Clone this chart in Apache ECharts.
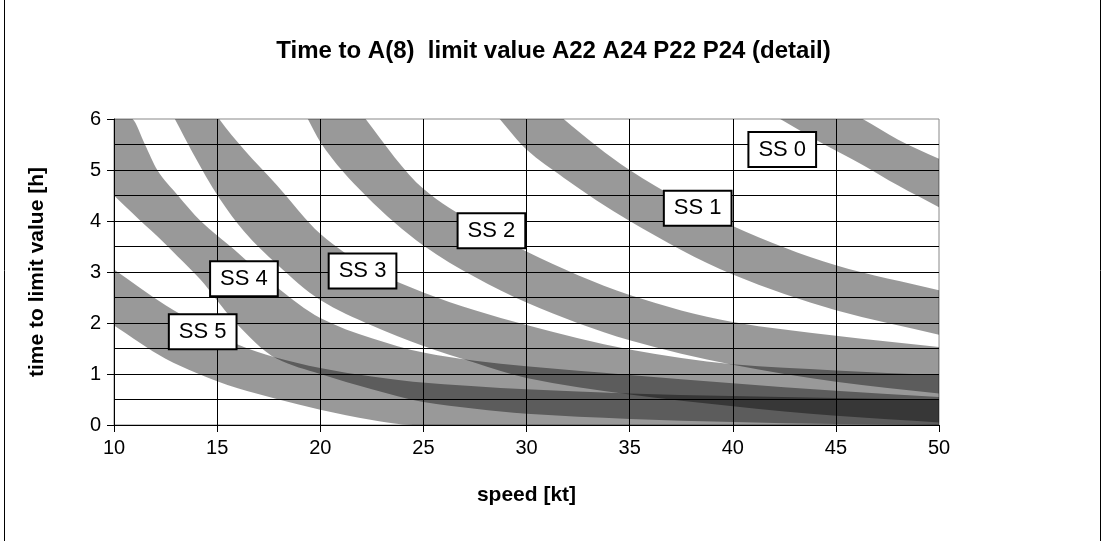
<!DOCTYPE html>
<html>
<head>
<meta charset="utf-8">
<title>Time to A(8) limit value</title>
<script src="https://cdn.jsdelivr.net/npm/echarts@6/dist/echarts.min.js"></script>
<style>
html, body { margin: 0; padding: 0; background: #fff; }
#chart { width: 1107px; height: 541px; }
</style>
</head>
<body>
<div id="chart"></div>
<script>
// band edges (time to limit value [h]) per sea state
// points above 6 h are estimates of where the edge runs beyond the top of the plot
var ss0Speed = [42.3, 44, 46.3, 48, 50];
var ss0Low   = [6, 5.6, 5.1, 4.7, 4.27];
var ss0High  = [6.9, 6.5, 6, 5.6, 5.22];

var ss1Speed = [28.7, 30, 31.8, 35, 40, 45, 50];
var ss1Low   = [6, 5.4, 4.85, 4.0, 2.95, 2.25, 1.77];
var ss1High  = [7.1, 6.65, 6, 5.0, 3.9, 3.13, 2.64];

var ss2Speed = [19.4, 20, 22.2, 25, 27.5, 30, 35, 40, 45, 50];
var ss2Low   = [6, 5.55, 4.5, 3.52, 2.9, 2.4, 1.66, 1.18, 0.85, 0.62];
var ss2High  = [7.6, 7.25, 6, 4.63, 3.95, 3.4, 2.55, 2.02, 1.75, 1.53];

var ss3Speed = [12.95, 13.8, 15.1, 16.3, 17.9, 20, 22.5, 25, 27.5, 30, 35, 40, 45, 50];
var ss3Low   = [6, 5.35, 4.45, 3.8, 3.15, 2.45, 1.95, 1.55, 1.22, 0.92, 0.6, 0.37, 0.18, 0.05];
var ss3High  = [7.4, 6.8, 6, 5.4, 4.7, 3.75, 3.05, 2.6, 2.25, 1.96, 1.48, 1.19, 1.07, 0.98];

var ss4Speed = [10, 10.9, 11.5, 12.1, 13.1, 14.2, 15.8, 17.9, 20, 22.5, 25, 27.5, 30, 35, 40, 45, 50];
var ss4Low   = [4.5, 4.15, 3.92, 3.7, 3.3, 2.85, 2.05, 1.3, 1.0, 0.7, 0.45, 0.32, 0.22, 0.12, 0.06, 0.02, 0];
var ss4High  = [6.2, 6, 5.5, 5.0, 4.5, 4.0, 3.45, 2.7, 2.1, 1.7, 1.42, 1.26, 1.15, 0.98, 0.82, 0.67, 0.55];

var ss5Speed = [10, 12.5, 14, 16, 17.8, 20, 22.5, 24.5, 27.5, 30, 35, 40, 45, 50];
var ss5Low   = [1.95, 1.3, 1.02, 0.72, 0.52, 0.3, 0.1, 0, 0, 0, 0, 0, 0, 0];
var ss5High  = [3.05, 2.35, 2.0, 1.58, 1.33, 1.12, 0.95, 0.85, 0.76, 0.7, 0.62, 0.57, 0.53, 0.5];

var labelNames = ['SS 0', 'SS 1', 'SS 2', 'SS 3', 'SS 4', 'SS 5'];
var labelSpeed = [42.4, 38.3, 28.3, 22.05, 16.3, 14.3];
var labelTime  = [5.4, 4.25, 3.81, 3.02, 2.87, 1.83];

var font = 'Liberation Sans, Arial, sans-serif';

// monotone cubic through pixel points (x ascending), as bezier pieces
function pieces(p) {
  var n = p.length, d = [], m = [], out = [], i;
  for (i = 0; i < n - 1; i++) d.push((p[i + 1][1] - p[i][1]) / (p[i + 1][0] - p[i][0]));
  m[0] = d[0];
  m[n - 1] = d[n - 2];
  for (i = 1; i < n - 1; i++) {
    if (d[i - 1] * d[i] <= 0) { m[i] = 0; continue; }
    var h0 = p[i][0] - p[i - 1][0], h1 = p[i + 1][0] - p[i][0];
    m[i] = 3 * (h0 + h1) / ((2 * h1 + h0) / d[i - 1] + (h1 + 2 * h0) / d[i]);
  }
  for (i = 0; i < n - 1; i++) {
    var h = (p[i + 1][0] - p[i][0]) / 3;
    out.push([p[i], [p[i][0] + h, p[i][1] + m[i] * h], [p[i + 1][0] - h, p[i + 1][1] - m[i + 1] * h], p[i + 1]]);
  }
  return out;
}

function bandSeries(name, xs, lo, hi) {
  return {
    type: 'custom',
    name: name,
    silent: true,
    animation: false,
    data: xs.map(function (x, i) { return [x, lo[i], hi[i]]; }),
    encode: { x: 0, y: [1, 2] },
    renderItem: function (params, api) {
      if (params.dataIndex !== 0) return null;
      var top = xs.map(function (x, i) { return api.coord([x, hi[i]]); });
      var bot = xs.map(function (x, i) { return api.coord([x, lo[i]]); });
      var path = 'M' + top[0][0] + ' ' + top[0][1];
      pieces(top).forEach(function (s) {
        path += ' C' + s[1].join(' ') + ' ' + s[2].join(' ') + ' ' + s[3].join(' ');
      });
      var last = bot[bot.length - 1];
      path += ' L' + last[0] + ' ' + last[1];
      pieces(bot).reverse().forEach(function (s) {
        path += ' C' + s[2].join(' ') + ' ' + s[1].join(' ') + ' ' + s[0].join(' ');
      });
      path += ' Z';
      var cs = params.coordSys;
      return {
        type: 'path',
        shape: { pathData: path },
        style: { fill: 'rgba(0,0,0,0.4)', stroke: null },
        clipPath: { type: 'rect', shape: { x: cs.x, y: cs.y, width: cs.width, height: cs.height } }
      };
    }
  };
}

var series = [
  bandSeries('SS 0', ss0Speed, ss0Low, ss0High),
  bandSeries('SS 1', ss1Speed, ss1Low, ss1High),
  bandSeries('SS 2', ss2Speed, ss2Low, ss2High),
  bandSeries('SS 3', ss3Speed, ss3Low, ss3High),
  bandSeries('SS 4', ss4Speed, ss4Low, ss4High),
  bandSeries('SS 5', ss5Speed, ss5Low, ss5High)
];

series.push({
  type: 'scatter',
  symbolSize: 0,
  itemStyle: { color: 'rgba(0,0,0,0)', opacity: 1 },
  silent: true,
  animation: false,
  z: 10,
  data: labelNames.map(function (n, i) { return { name: n, value: [labelSpeed[i], labelTime[i]] }; }),
  label: {
    show: true,
    position: 'inside',
    formatter: '{b}',
    color: '#000',
    opacity: 1,
    fontFamily: font,
    fontSize: 22,
    backgroundColor: '#fff',
    borderColor: '#000',
    borderWidth: 2,
    padding: [6, 9, 5, 9]
  }
});

var chart = echarts.init(document.getElementById('chart'));
chart.setOption({
  animation: false,
  title: {
    text: 'Time to A(8)  limit value A22 A24 P22 P24 (detail)',
    left: 'center',
    top: 34,
    textStyle: { fontFamily: font, fontSize: 24, fontWeight: 'bold', color: '#000' }
  },
  grid: { left: 114, top: 119, width: 825, height: 306, show: true, borderColor: '#888', borderWidth: 1 },
  xAxis: {
    type: 'value', min: 10, max: 50, interval: 5,
    name: 'speed [kt]', nameLocation: 'middle', nameGap: 60,
    nameTextStyle: { fontFamily: font, fontSize: 21, fontWeight: 'bold', color: '#000' },
    axisLine: { lineStyle: { color: '#000', width: 1 } },
    axisTick: { length: 7, lineStyle: { color: '#000' } },
    axisLabel: { fontFamily: font, fontSize: 20, color: '#000', margin: 13 },
    splitLine: { show: true, showMaxLine: false, lineStyle: { color: '#000', width: 1 } }
  },
  yAxis: {
    type: 'value', min: 0, max: 6, interval: 1,
    name: 'time to limit value [h]', nameLocation: 'middle', nameGap: 66,
    nameTextStyle: { fontFamily: font, fontSize: 21, fontWeight: 'bold', color: '#000' },
    axisLine: { show: true, lineStyle: { color: '#000', width: 1 } },
    axisTick: { show: true, length: 7, lineStyle: { color: '#000' } },
    axisLabel: { fontFamily: font, fontSize: 20, color: '#000', margin: 13 },
    splitLine: { show: true, showMaxLine: false, lineStyle: { color: '#000', width: 1 } },
    minorTick: { show: false, splitNumber: 2 },
    minorSplitLine: { show: true, lineStyle: { color: '#000', width: 1 } }
  },
  graphic: [
    { type: 'line', shape: { x1: 4.5, y1: 0, x2: 4.5, y2: 541 }, style: { stroke: '#000', lineWidth: 1 }, silent: true },
    { type: 'line', shape: { x1: 1100.5, y1: 0, x2: 1100.5, y2: 541 }, style: { stroke: '#000', lineWidth: 1 }, silent: true }
  ],
  series: series
});
</script>
</body>
</html>
